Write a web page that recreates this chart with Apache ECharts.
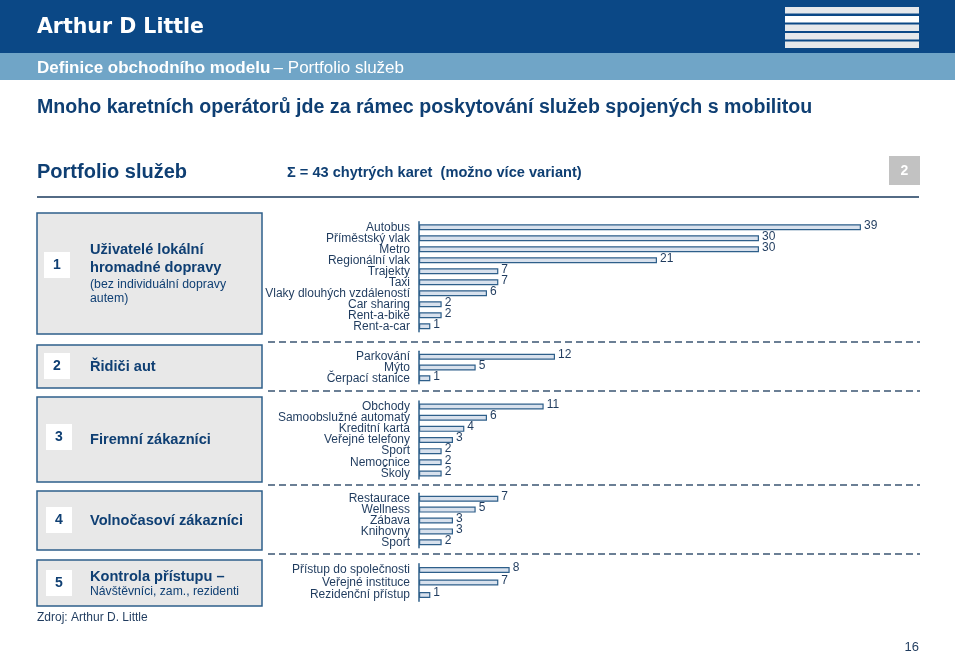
<!DOCTYPE html>
<html>
<head>
<meta charset="utf-8">
<script src="https://cdn.jsdelivr.net/npm/echarts@6/dist/echarts.min.js"></script>
<style>
  html, body { margin: 0; padding: 0; background: #fff; }
  #chart { width: 960px; height: 654px; }
</style>
</head>
<body>
<div id="chart"></div>
<script>
// data per segment
var cat1 = ['Autobus', 'Příměstský vlak', 'Metro', 'Regionální vlak', 'Trajekty', 'Taxi', 'Vlaky dlouhých vzdáleností', 'Car sharing', 'Rent-a-bike', 'Rent-a-car'];
var val1 = [39, 30, 30, 21, 7, 7, 6, 2, 2, 1];
var cat2 = ['Parkování', 'Mýto', 'Čerpací stanice'];
var val2 = [12, 5, 1];
var cat3 = ['Obchody', 'Samoobslužné automaty', 'Kreditní karta', 'Veřejné telefony', 'Sport', 'Nemocnice', 'Školy'];
var val3 = [11, 6, 4, 3, 2, 2, 2];
var cat4 = ['Restaurace', 'Wellness', 'Zábava', 'Knihovny', 'Sport'];
var val4 = [7, 5, 3, 3, 2];
var cat5 = ['Přístup do společnosti', 'Veřejné instituce', 'Rezidenční přístup'];
var val5 = [8, 7, 1];

var FONT = '"Liberation Sans", Arial, sans-serif';
var navy = '#0f3f73';
var ink = '#1f3b5e';
var barEdge = '#2e5f8a';

var cats = [cat1, cat2, cat3, cat4, cat5];
var vals = [val1, val2, val3, val4, val5];
// grid top / height for each segment
var gridPos = [[221.7, 110], [351.3, 32.4], [401, 78], [493.3, 54.4], [563.8, 37.5]];

var grids = [], xAxes = [], yAxes = [], series = [];
for (var i = 0; i < 5; i++) {
    grids.push({left: 419, width: 453.3, top: gridPos[i][0], height: gridPos[i][1]});
    xAxes.push({gridIndex: i, type: 'value', min: 0, max: 40, show: false});
    yAxes.push({
        gridIndex: i, type: 'category', data: cats[i], inverse: true,
        axisLine: {lineStyle: {color: barEdge, width: 1.5}},
        axisTick: {show: false},
        axisLabel: {interval: 0, fontFamily: FONT, fontSize: 12, color: ink, margin: 9, lineHeight: 11}
    });
    series.push({
        type: 'bar', xAxisIndex: i, yAxisIndex: i, data: vals[i], barWidth: 6,
        itemStyle: {color: '#d8e1ed', borderColor: barEdge, borderWidth: 1.2},
        label: {show: true, position: 'right', distance: 3, offset: [0, -2],
            fontFamily: FONT, fontSize: 12, color: ink},
        silent: true
    });
}

function txt(x, y, s, size, color, weight, align) {
    return {type: 'text', x: x, y: y, style: {text: s, fontFamily: FONT, fontSize: size,
        fill: color, fontWeight: weight || 'normal', align: align || 'left', verticalAlign: 'middle'}};
}
function rect(x, y, w, h, fill, stroke, lw) {
    return {type: 'rect', shape: {x: x, y: y, width: w, height: h},
        style: {fill: fill, stroke: stroke || null, lineWidth: lw || 0}};
}
function dash(y) {
    return {type: 'line', shape: {x1: 268, y1: y, x2: 920, y2: y},
        style: {stroke: '#3b5573', lineWidth: 1.3, lineDash: [7, 4]}};
}

var g = [];
// header
g.push(rect(0, 0, 955, 53, '#0b4886'));
g.push(rect(0, 53, 955, 27, '#70a5c7'));
[7, 16, 24.5, 33, 41.5].forEach(function (y, k) {
    g.push(rect(785, y, 134, 6.5, k === 1 ? '#ffffff' : '#e6e8eb'));
});
g.push({type: 'text', x: 37, y: 28, style: {text: 'Arthur D Little', fontFamily: '"DejaVu Sans", sans-serif',
    fontSize: 20.5, fontWeight: 'bold', fill: '#ffffff', verticalAlign: 'middle'}});
g.push({type: 'text', x: 37, y: 68, style: {
    text: '{b|Definice obchodního modelu} {r|– Portfolio služeb}', verticalAlign: 'middle',
    rich: {b: {fontFamily: FONT, fontSize: 17, fontWeight: 'bold', fill: '#fff'},
           r: {fontFamily: FONT, fontSize: 17, fill: '#fff'}}}});
g.push(txt(37, 108, 'Mnoho karetních operátorů jde za rámec poskytování služeb spojených s mobilitou', 19.6, navy, 'bold'));
g.push(txt(37, 172, 'Portfolio služeb', 20, navy, 'bold'));
g.push(txt(287, 173, 'Σ = 43 chytrých karet  (možno více variant)', 14.6, navy, 'bold'));
g.push(rect(889, 156, 31, 29, '#c2c2c2'));
g.push(txt(904.5, 171, '2', 14, '#ffffff', 'bold', 'center'));
g.push({type: 'line', shape: {x1: 37, y1: 197, x2: 919, y2: 197}, style: {stroke: '#1a3a5c', lineWidth: 1.5}});

// left segment boxes
var boxes = [[213, 121], [345, 43], [397, 85], [491, 59], [560, 46]];
var numBoxes = [[44, 252], [44, 353], [46, 424], [46, 507], [46, 570]];
boxes.forEach(function (b, k) {
    g.push(rect(37, b[0], 225, b[1], '#e8e8e8', barEdge, 1.5));
    g.push(rect(numBoxes[k][0], numBoxes[k][1], 26, 26, '#ffffff'));
    g.push(txt(numBoxes[k][0] + 13, numBoxes[k][1] + 13, String(k + 1), 14, navy, 'bold', 'center'));
});
g.push(txt(90, 250, 'Uživatelé lokální', 14.6, navy, 'bold'));
g.push(txt(90, 268, 'hromadné dopravy', 14.6, navy, 'bold'));
g.push(txt(90, 285, '(bez individuální dopravy', 12.3, navy));
g.push(txt(90, 299, 'autem)', 12.3, navy));
g.push(txt(90, 367, 'Řidiči aut', 14.6, navy, 'bold'));
g.push(txt(90, 440, 'Firemní zákazníci', 14.6, navy, 'bold'));
g.push(txt(90, 521, 'Volnočasoví zákazníci', 14.6, navy, 'bold'));
g.push(txt(90, 577, 'Kontrola přístupu –', 14.6, navy, 'bold'));
g.push(txt(90, 592, 'Návštěvníci, zam., rezidenti', 12.2, navy));

[342, 391, 485, 554].forEach(function (y) { g.push(dash(y)); });

g.push(txt(37, 618, 'Zdroj: Arthur D. Little', 12, ink));
g.push(txt(919, 647, '16', 13, ink, 'normal', 'right'));

var myChart = echarts.init(document.getElementById('chart'));
myChart.setOption({
    animation: false,
    grid: grids,
    xAxis: xAxes,
    yAxis: yAxes,
    series: series,
    graphic: g
});
</script>
</body>
</html>
